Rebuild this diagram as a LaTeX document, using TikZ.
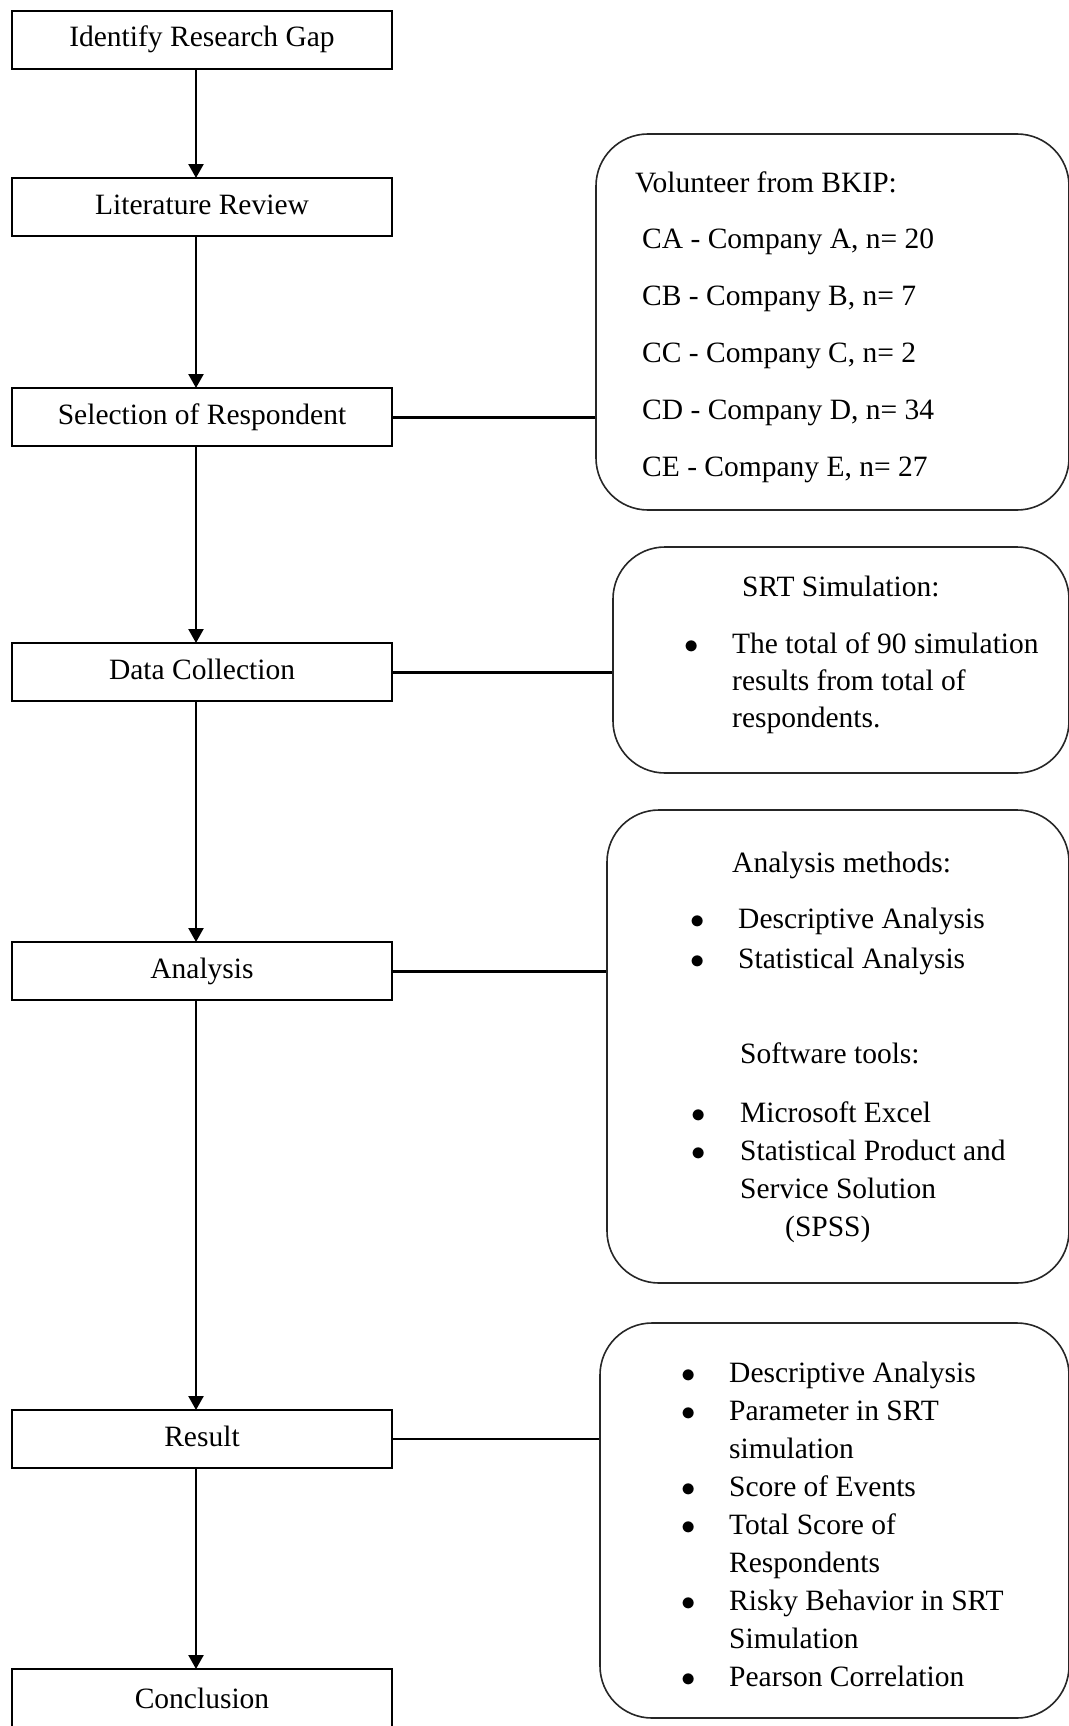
\documentclass[tikz,border=0pt]{standalone}
\usepackage{fontspec}
\setmainfont{Liberation Serif}
\usepackage{tikz}
\usetikzlibrary{arrows.meta}
\usetikzlibrary{positioning}
\newcommand\bul{\scalebox{1.15}{$\bullet$}}
\tikzset{
	stepbox/.style={rectangle, draw=black, line width=1.8pt, minimum width=380pt,
		minimum height=58pt, text height=20pt, text depth=6pt, inner sep=0pt, outer sep=0pt},
	infobox/.style={rectangle, rounded corners=52pt, draw=black!85, line width=1.6pt},
	txt/.style={inner sep=0pt, anchor=base west},
}

\begin{document}
\begin{tikzpicture}[x=1pt, y=-1pt,
	font=\fontsize{29.5}{38}\selectfont,
	flow/.style={line width=2.4pt, -{Triangle[length=14pt,width=15pt]}},
	link/.style={line width=3pt}]

	\useasboundingbox (0,0) rectangle (1068,1726);

	% steps, left column
	\node[stepbox] (gap) at (202,40) {Identify Research Gap};
	\node[stepbox, below = 109pt of gap] (litrev) {Literature Review};
	\node[stepbox, below = 152pt of litrev] (selres) {Selection of Respondent};
	\node[stepbox, below = 197pt of selres] (datacol) {Data Collection};
	\node[stepbox, below = 241pt of datacol] (anls) {Analysis};
	\node[stepbox, below = 410pt of anls] (result) {Result};
	\node[stepbox, below = 201pt of result, minimum height=64pt] (concl) {Conclusion};

	% arrows between steps
	\foreach \a/\b in {gap/litrev, litrev/selres, selres/datacol, datacol/anls, anls/result, result/concl}
	\draw[flow] ([xshift=-6pt]\a.south) -- ([xshift=-6pt]\b.north);

	% info boxes, right column
	\node[infobox, minimum width=473pt, minimum height=376pt] (volbox) at (832.5,322) {};
	\node[infobox, minimum width=456pt, minimum height=226pt] (srtbox) at (841,660) {};
	\node[infobox, minimum width=462pt, minimum height=473pt] (anlbox) at (838,1046.5) {};
	\node[infobox, minimum width=469pt, minimum height=395pt] (resbox) at (834.5,1520.5) {};

	% side links
	\draw[link] (selres.east) -- (selres.east -| volbox.west);
	\draw[link] (datacol.east) -- (datacol.east -| srtbox.west);
	\draw[link] (anls.east) -- (anls.east -| anlbox.west);
	\draw[link, line width=1.5pt] (result.east) -- (result.east -| resbox.west);

	% volunteers
	\node[txt] (voltitle) at (635,192) {Volunteer from BKIP:};
	\node[txt, font=\fontsize{29.5}{57}\selectfont] (vollist) at (642,248) {%
		\begin{tabular}[t]{@{}l@{}}
			CA - Company A, n= 20\\ CB - Company B, n= 7\\ CC - Company C, n= 2\\
			CD - Company D, n= 34\\ CE - Company E, n= 27
		\end{tabular}};

	% simulation
	\node[txt] (srttitle) at (742,596) {SRT Simulation:};
	\node[txt, font=\fontsize{29.5}{37}\selectfont] (srtlist) at (684.5,653) {%
		\begin{tabular}[t]{@{}p{47.5pt}@{}l@{}}
			\bul & The total of 90 simulation\\ & results from total of\\ & respondents.
		\end{tabular}};

	% analysis methods and tools
	\node[txt] (mtitle) at (732,872) {Analysis methods:};
	\node[txt, font=\fontsize{29.5}{40}\selectfont] (mlist) at (690.5,928) {%
		\begin{tabular}[t]{@{}p{47.5pt}@{}l@{}}
			\bul & Descriptive Analysis\\ \bul & Statistical Analysis
		\end{tabular}};
	\node[txt] (tooltitle) at (740,1063) {Software tools:};
	\node[txt] (toollist) at (691.5,1122) {%
		\begin{tabular}[t]{@{}p{48.5pt}@{}l@{}}
			\bul & Microsoft Excel\\ \bul & Statistical Product and\\
			& Service Solution\\ & \hspace*{45pt}(SPSS)
		\end{tabular}};

	% results
	\node[txt] (reslist) at (681.5,1382) {%
		\begin{tabular}[t]{@{}p{47.5pt}@{}l@{}}
			\bul & Descriptive Analysis\\ \bul & Parameter in SRT\\ & simulation\\
			\bul & Score of Events\\ \bul & Total Score of\\ & Respondents\\
			\bul & Risky Behavior in SRT\\ & Simulation\\ \bul & Pearson Correlation
		\end{tabular}};

\end{tikzpicture}
\end{document}
